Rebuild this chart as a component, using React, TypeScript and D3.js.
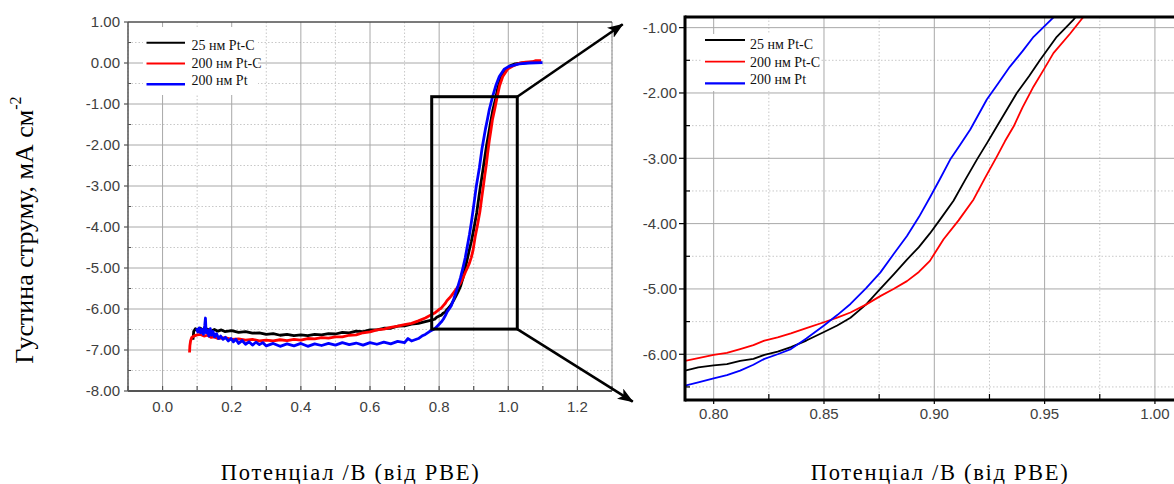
import React from "react";
import * as d3 from "d3";

type Pt = [number, number];

const seriesNames = ["25 нм Pt-C", "200 нм Pt-C", "200 нм Pt"];
const seriesColors = ["#000000", "#ff0000", "#0000ff"];

const black: Pt[] = [
  [0.088, -6.75], [0.09, -6.55], [0.095, -6.48], [0.1, -6.52], [0.11, -6.47], [0.12, -6.53],
  [0.13, -6.49], [0.14, -6.54], [0.15, -6.5], [0.16, -6.54], [0.17, -6.51], [0.18, -6.55],
  [0.2, -6.53], [0.22, -6.57], [0.24, -6.55], [0.26, -6.59], [0.28, -6.58], [0.3, -6.62],
  [0.32, -6.6], [0.34, -6.64], [0.36, -6.62], [0.38, -6.65], [0.4, -6.63], [0.42, -6.65],
  [0.44, -6.62], [0.46, -6.63], [0.48, -6.6], [0.5, -6.61], [0.52, -6.57], [0.54, -6.58],
  [0.56, -6.54], [0.58, -6.55], [0.6, -6.51], [0.62, -6.51], [0.64, -6.47], [0.66, -6.47],
  [0.68, -6.42], [0.7, -6.41], [0.72, -6.37], [0.74, -6.35], [0.76, -6.31], [0.775, -6.28],
  [0.787, -6.25], [0.793, -6.2], [0.8, -6.17], [0.806, -6.15], [0.812, -6.1], [0.818, -6.07],
  [0.823, -6.01], [0.829, -5.96], [0.835, -5.89], [0.842, -5.79], [0.85, -5.66], [0.856, -5.56],
  [0.862, -5.44], [0.869, -5.24], [0.8755, -5.0], [0.8815, -4.78], [0.8876, -4.55], [0.893, -4.36],
  [0.898, -4.15], [0.903, -3.92], [0.9087, -3.65], [0.914, -3.33], [0.9193, -3.02], [0.924, -2.76],
  [0.9284, -2.51], [0.933, -2.25], [0.9374, -2.0], [0.943, -1.74], [0.948, -1.49], [0.9555, -1.14],
  [0.963, -0.88], [0.97, -0.6], [0.978, -0.38], [0.99, -0.18], [1.005, -0.07], [1.02, -0.02],
  [1.04, 0.0], [1.07, 0.02], [1.095, 0.03],
];

const red: Pt[] = [
  [0.078, -7.06], [0.079, -6.9], [0.081, -6.78], [0.084, -6.7], [0.09, -6.66], [0.1, -6.63],
  [0.11, -6.62], [0.12, -6.66], [0.13, -6.64], [0.14, -6.69], [0.15, -6.68], [0.16, -6.72],
  [0.18, -6.7], [0.2, -6.74], [0.22, -6.73], [0.24, -6.76], [0.26, -6.74], [0.28, -6.78],
  [0.3, -6.76], [0.32, -6.78], [0.34, -6.75], [0.36, -6.77], [0.38, -6.74], [0.4, -6.76],
  [0.42, -6.72], [0.44, -6.73], [0.46, -6.7], [0.48, -6.71], [0.5, -6.68], [0.52, -6.68],
  [0.54, -6.64], [0.56, -6.63], [0.58, -6.58], [0.6, -6.56], [0.62, -6.51], [0.64, -6.49],
  [0.66, -6.45], [0.68, -6.42], [0.7, -6.38], [0.72, -6.35], [0.74, -6.29], [0.76, -6.22],
  [0.775, -6.15], [0.787, -6.1], [0.793, -6.06], [0.8, -6.01], [0.806, -5.98], [0.812, -5.92],
  [0.818, -5.86], [0.823, -5.79], [0.829, -5.74], [0.835, -5.68], [0.842, -5.6], [0.85, -5.51],
  [0.856, -5.44], [0.862, -5.36], [0.869, -5.24], [0.8755, -5.11], [0.8815, -5.0], [0.8876, -4.88],
  [0.893, -4.74], [0.898, -4.57], [0.9042, -4.24], [0.911, -3.95], [0.9178, -3.63], [0.923, -3.3],
  [0.9284, -2.97], [0.932, -2.74], [0.936, -2.51], [0.94, -2.22], [0.945, -1.9], [0.95, -1.62],
  [0.954, -1.39], [0.9616, -1.09], [0.967, -0.86], [0.975, -0.55], [0.984, -0.33], [0.998, -0.15],
  [1.012, -0.08], [1.03, -0.01], [1.05, 0.02], [1.07, 0.03], [1.08, 0.06], [1.095, 0.06],
];

const blue: Pt[] = [
  [0.098, -6.47], [0.102, -6.56], [0.106, -6.46], [0.11, -6.58], [0.114, -6.5], [0.118, -6.62],
  [0.122, -6.4], [0.124, -6.22], [0.126, -6.58], [0.13, -6.52], [0.134, -6.66], [0.138, -6.48],
  [0.142, -6.64], [0.146, -6.55], [0.15, -6.68], [0.156, -6.6], [0.162, -6.72], [0.168, -6.66],
  [0.175, -6.74], [0.182, -6.69], [0.19, -6.78], [0.198, -6.72], [0.205, -6.8], [0.212, -6.74],
  [0.22, -6.84], [0.23, -6.77], [0.24, -6.86], [0.25, -6.8], [0.26, -6.88], [0.27, -6.81],
  [0.28, -6.87], [0.29, -6.82], [0.3, -6.9], [0.32, -6.84], [0.34, -6.91], [0.36, -6.85],
  [0.38, -6.9], [0.4, -6.84], [0.42, -6.91], [0.44, -6.85], [0.46, -6.89], [0.48, -6.84],
  [0.5, -6.88], [0.52, -6.82], [0.54, -6.87], [0.56, -6.83], [0.58, -6.88], [0.6, -6.82],
  [0.62, -6.86], [0.64, -6.81], [0.66, -6.85], [0.68, -6.79], [0.7, -6.82], [0.71, -6.72],
  [0.72, -6.78], [0.74, -6.72], [0.75, -6.66], [0.76, -6.62], [0.772, -6.55], [0.787, -6.48],
  [0.793, -6.43], [0.8, -6.37], [0.806, -6.32], [0.812, -6.25], [0.818, -6.16], [0.823, -6.07],
  [0.829, -6.0], [0.835, -5.92], [0.842, -5.76], [0.85, -5.56], [0.856, -5.4], [0.862, -5.23],
  [0.869, -4.99], [0.8755, -4.75], [0.8815, -4.47], [0.8876, -4.19], [0.893, -3.9], [0.898, -3.6],
  [0.9025, -3.32], [0.9072, -3.02], [0.9118, -2.79], [0.9163, -2.56], [0.9238, -2.1], [0.929, -1.85],
  [0.9342, -1.6], [0.94, -1.36], [0.945, -1.14], [0.955, -0.81], [0.964, -0.55], [0.974, -0.33],
  [0.988, -0.15], [1.003, -0.08], [1.032, -0.02], [1.06, 0.0], [1.099, 0.01],
];

const seriesData: Pt[][] = [black, red, blue];

const leftXTicks = [0, 0.2, 0.4, 0.6, 0.8, 1.0, 1.2];
const leftXMinor = [-0.1, 0.1, 0.3, 0.5, 0.7, 0.9, 1.1, 1.3];
const leftYTicks = [1, 0, -1, -2, -3, -4, -5, -6, -7, -8];
const leftYMinor = [0.5, -0.5, -1.5, -2.5, -3.5, -4.5, -5.5, -6.5, -7.5];

const rightXTicks = [0.8, 0.85, 0.9, 0.95, 1.0];
const rightXMinor = [0.825, 0.875, 0.925, 0.975];
const rightYTicks = [-1, -2, -3, -4, -5, -6];
const rightYMinor = [-1.5, -2.5, -3.5, -4.5, -5.5, -6.5];

const zoomBox = { x0: 0.7785, x1: 1.026, y0: -6.49, y1: -0.822 };
const arrowTips: Pt[] = [[1.331, 0.944], [1.36, -8.26]];

const xTitle = "Потенціал /В (від РВЕ)";

const SANS = "'Liberation Sans', Arial, sans-serif";
const SERIF = "'Liberation Serif', 'Times New Roman', serif";
const MAJOR = "#a8a8a8";
const MINOR = "#c8c8c8";
const LABEL = "#404040";

export default function App() {
  // left chart
  const L = { x0: 128, x1: 612, y0: 22, y1: 391 };
  const lx = d3.scaleLinear().domain([-0.1, 1.3]).range([L.x0, L.x1]);
  const ly = d3.scaleLinear().domain([-8, 1]).range([L.y1, L.y0]);
  // right chart
  const R = { x0: 685, x1: 1177, y0: 17, y1: 400 };
  const rx = d3.scaleLinear().domain([0.787, 1.01]).range([R.x0, R.x1]);
  const ry = d3.scaleLinear().domain([-6.7, -0.837]).range([R.y1, R.y0]);

  const lLine = d3.line<Pt>().x((d) => lx(d[0])).y((d) => ly(d[1]));
  const rLine = d3.line<Pt>().x((d) => rx(d[0])).y((d) => ry(d[1]));

  const bx0 = lx(zoomBox.x0), bx1 = lx(zoomBox.x1);
  const by0 = ly(zoomBox.y1), by1 = ly(zoomBox.y0);

  return (
    <svg
      width={1174}
      height={484}
      style={{ position: "absolute", left: 0, top: 0, background: "#fff" }}
    >
      <defs>
        <clipPath id="rclip">
          <rect x={R.x0} y={R.y0} width={R.x1 - R.x0} height={R.y1 - R.y0} />
        </clipPath>
        <marker id="arrow" viewBox="0 0 16 12" refX="15" refY="6" markerWidth="16" markerHeight="12" markerUnits="userSpaceOnUse" orient="auto">
          <path d="M0,0 L16,6 L0,12 L4,6 Z" fill="#000" />
        </marker>
      </defs>
      <rect x={0} y={0} width={1174} height={484} fill="#fff" />

      {/* ===== LEFT CHART ===== */}
      <g>
        {leftXMinor.map((v) => (
          <line key={"lxm" + v} x1={lx(v)} x2={lx(v)} y1={L.y0} y2={L.y1} stroke={MINOR} strokeDasharray="1.5,2" />
        ))}
        {leftYMinor.map((v) => (
          <line key={"lym" + v} x1={L.x0} x2={L.x1} y1={ly(v)} y2={ly(v)} stroke={MINOR} strokeDasharray="1.5,2" />
        ))}
        {leftXTicks.map((v) => (
          <line key={"lxg" + v} x1={lx(v)} x2={lx(v)} y1={L.y0} y2={L.y1} stroke={MAJOR} />
        ))}
        {leftYTicks.map((v) => (
          <line key={"lyg" + v} x1={L.x0} x2={L.x1} y1={ly(v)} y2={ly(v)} stroke={MAJOR} />
        ))}
        <line x1={L.x1} x2={L.x1} y1={L.y0} y2={L.y1} stroke="#888" />
        <line x1={L.x0} x2={L.x1} y1={L.y0} y2={L.y0} stroke="#222" />

        {/* legend background */}
        <rect x={143} y={27} width={115} height={68} fill="#fff" />

        {seriesData.map((d, i) => (
          <path key={"ls" + i} d={lLine(d) || ""} fill="none" stroke={seriesColors[i]} strokeWidth={2.8} strokeLinejoin="round" />
        ))}

        {/* axes */}
        <line x1={L.x0} x2={L.x0} y1={L.y0} y2={L.y1} stroke="#555" strokeWidth={1.5} />
        <line x1={L.x0} x2={L.x1} y1={L.y1} y2={L.y1} stroke="#555" strokeWidth={2} />
        {[...leftXTicks, ...leftXMinor].map((v) => (
          <line key={"lxt" + v} x1={lx(v)} x2={lx(v)} y1={L.y1} y2={L.y1 - 5} stroke="#555" strokeWidth={1.2} />
        ))}
        {leftYTicks.map((v) => (
          <line key={"lyt" + v} x1={L.x0 - 4} x2={L.x0} y1={ly(v)} y2={ly(v)} stroke="#555" strokeWidth={1.2} />
        ))}
        {leftYMinor.map((v) => (
          <line key={"lytm" + v} x1={L.x0} x2={L.x0 + 3} y1={ly(v)} y2={ly(v)} stroke="#555" strokeWidth={1} />
        ))}
        {leftYTicks.map((v) => (
          <text key={"lyl" + v} x={L.x0 - 8} y={ly(v) + 5.3} textAnchor="end" fontFamily={SANS} fontSize={15} fill={LABEL}>
            {v.toFixed(2)}
          </text>
        ))}
        {leftXTicks.map((v) => (
          <text key={"lxl" + v} x={lx(v)} y={L.y1 + 21} textAnchor="middle" fontFamily={SANS} fontSize={15} fill={LABEL}>
            {v.toFixed(1)}
          </text>
        ))}

        {/* legend */}
        {seriesNames.map((n, i) => (
          <g key={"lleg" + i}>
            <line x1={146.5} x2={185} y1={42.7 + i * 20.8} y2={42.7 + i * 20.8} stroke={seriesColors[i]} strokeWidth={i === 2 ? 2.6 : 2} />
            <text x={191.5} y={50 + i * 17.5} fontFamily={SERIF} fontSize={14} fill="#111">
              {n}
            </text>
          </g>
        ))}

        {/* zoom box and arrows */}
        <rect x={bx0} y={by0} width={bx1 - bx0} height={by1 - by0} fill="none" stroke="#000" strokeWidth={3} />
        <line x1={bx1} y1={by0} x2={lx(arrowTips[0][0])} y2={ly(arrowTips[0][1])} stroke="#000" strokeWidth={2.6} markerEnd="url(#arrow)" />
        <line x1={bx1} y1={by1} x2={lx(arrowTips[1][0])} y2={ly(arrowTips[1][1])} stroke="#000" strokeWidth={2.6} markerEnd="url(#arrow)" />

        <text x={220.7} y={480} textLength={258} lengthAdjust="spacing" fontFamily={SERIF} fontSize={22.5} fill="#000">
          {xTitle}
        </text>
        <text transform="translate(33,230) rotate(-90)" textAnchor="middle" fontFamily={SERIF} fontSize={26} fill="#000">
          Густина струму, мА см
          <tspan fontSize={16} dy={-12}>-2</tspan>
        </text>
      </g>

      {/* ===== RIGHT CHART ===== */}
      <g>
        {rightXMinor.map((v) => (
          <line key={"rxm" + v} x1={rx(v)} x2={rx(v)} y1={R.y0} y2={R.y1} stroke={MINOR} strokeDasharray="1.5,2" />
        ))}
        {rightYMinor.map((v) => (
          <line key={"rym" + v} x1={R.x0} x2={R.x1} y1={ry(v)} y2={ry(v)} stroke={MINOR} strokeDasharray="1.5,2" />
        ))}
        {rightXTicks.map((v) => (
          <line key={"rxg" + v} x1={rx(v)} x2={rx(v)} y1={R.y0} y2={R.y1} stroke={MAJOR} />
        ))}
        {rightYTicks.map((v) => (
          <line key={"ryg" + v} x1={R.x0} x2={R.x1} y1={ry(v)} y2={ry(v)} stroke={MAJOR} />
        ))}

        <rect x={702} y={34} width={118} height={57} fill="#fff" />

        <g clipPath="url(#rclip)">
          {seriesData.map((d, i) => (
            <path key={"rs" + i} d={rLine(d) || ""} fill="none" stroke={seriesColors[i]} strokeWidth={1.8} strokeLinejoin="round" />
          ))}
        </g>

        <line x1={R.x0} x2={R.x0} y1={R.y0 - 1.5} y2={R.y1 + 1.5} stroke="#000" strokeWidth={3} />
        <line x1={R.x0} x2={R.x1} y1={R.y1} y2={R.y1} stroke="#000" strokeWidth={3} />
        <line x1={R.x0} x2={R.x1} y1={R.y0} y2={R.y0} stroke="#000" strokeWidth={3} />
        {rightXMinor.map((v) => (
          <line key={"rxt" + v} x1={rx(v)} x2={rx(v)} y1={R.y1} y2={R.y1 - 6} stroke="#000" strokeWidth={1.2} />
        ))}
        {rightXTicks.map((v) => (
          <line key={"rxtm" + v} x1={rx(v)} x2={rx(v)} y1={R.y1} y2={R.y1 + 4} stroke="#000" strokeWidth={1.2} />
        ))}
        {rightYTicks.map((v) => (
          <line key={"ryt" + v} x1={R.x0 - 6} x2={R.x0} y1={ry(v)} y2={ry(v)} stroke="#000" strokeWidth={1.2} />
        ))}
        {rightYMinor.map((v) => (
          <line key={"rytm" + v} x1={R.x0} x2={R.x0 + 5} y1={ry(v)} y2={ry(v)} stroke="#000" strokeWidth={1.2} />
        ))}
        {rightYTicks.map((v) => (
          <text key={"ryl" + v} x={R.x0 - 8} y={ry(v) + 5.3} textAnchor="end" fontFamily={SANS} fontSize={15} fill={LABEL}>
            {v.toFixed(2)}
          </text>
        ))}
        {rightXTicks.map((v) => (
          <text key={"rxl" + v} x={rx(v)} y={R.y1 + 18.5} textAnchor="middle" fontFamily={SANS} fontSize={15} fill={LABEL}>
            {v.toFixed(2)}
          </text>
        ))}

        {seriesNames.map((n, i) => (
          <g key={"rleg" + i}>
            <line x1={705} x2={745} y1={40 + i * 21.7} y2={40 + i * 21.7} stroke={seriesColors[i]} strokeWidth={i === 2 ? 2.4 : 1.8} />
            <text x={750} y={49 + i * 17.5} fontFamily={SERIF} fontSize={14} fill="#111">
              {n}
            </text>
          </g>
        ))}

        <text x={810.7} y={480} textLength={257} lengthAdjust="spacing" fontFamily={SERIF} fontSize={22.5} fill="#000">
          {xTitle}
        </text>
      </g>
    </svg>
  );
}
